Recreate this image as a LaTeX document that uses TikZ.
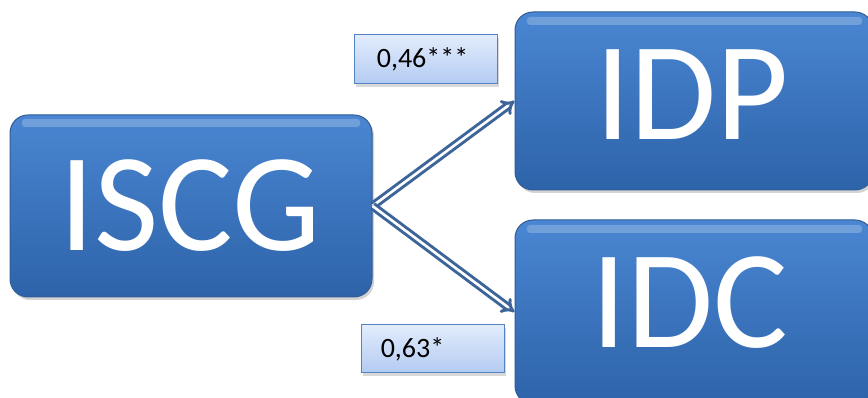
\documentclass[tikz,border=0pt]{standalone}
\usepackage{fontspec}
\setmainfont{Carlito}
\usetikzlibrary{arrows.meta,shadows}
\definecolor{boxtop}{HTML}{4A86D2}
\definecolor{boxbot}{HTML}{2D63A9}
\definecolor{boxline}{HTML}{2F5C96}
\definecolor{lbltop}{HTML}{E2ECFC}
\definecolor{lblbot}{HTML}{B3CBF2}
\definecolor{lblline}{HTML}{5583C2}
\definecolor{arrowc}{HTML}{3E6599}
\tikzset{
  bigbox/.style={rectangle, rounded corners=18pt, draw=boxline, line width=1pt,
    top color=boxtop, bottom color=boxbot, text=white,
    font=\fontsize{140}{140}\selectfont, inner sep=0pt,
    drop shadow={shadow xshift=2pt, shadow yshift=-3pt, opacity=0.35}},
  lblbox/.style={rectangle, draw=lblline, line width=1pt,
    top color=lbltop, bottom color=lblbot, text=black,
    font=\fontsize{28}{28}\selectfont, inner sep=0pt,
    drop shadow={shadow xshift=2pt, shadow yshift=-3pt, opacity=0.3}},
  gloss/.style={fill=white, fill opacity=0.22, draw=none, rounded corners=3pt},
  dblarrow/.style={draw=arrowc, line width=3pt, double=white, double distance=2.6pt,
    -{Implies[length=6pt,width=12pt]}}
}
\begin{document}
\begin{tikzpicture}[x=1pt,y=1pt]
\useasboundingbox (0,0) rectangle (868,398);
\clip (0,0) rectangle (868,398);
% boxes
\node[bigbox, minimum width=362pt, minimum height=182pt] (iscg) at (191,192) {};
\node[bigbox, minimum width=358pt, minimum height=178pt] (idp) at (694,297) {};
\node[bigbox, minimum width=358pt, minimum height=184pt] (idc) at (694,86) {};
% gloss
\fill[gloss] (22,279) rectangle (360,271);
\fill[gloss] (527,381) rectangle (862,373);
\fill[gloss] (527,173) rectangle (862,165);
% texts
\node[text=white, font=\fontsize{140}{140}\selectfont, inner sep=0pt] (tiscg) at (190,192) {ISCG};
\node[text=white, font=\fontsize{140}{140}\selectfont, inner sep=0pt] (tidp) at (692,303) {IDP};
\node[text=white, font=\fontsize{140}{140}\selectfont, inner sep=0pt] (tidc) at (690,95) {IDC};
% arrows
\draw[dblarrow] (iscg.east) -- (idp.west);
\draw[dblarrow] (iscg.east) -- (idc.west);
% labels
\node[lblbox, minimum width=143pt, minimum height=49pt] (l1) at (425.5,338.5) {\hspace*{-6pt}0,46***};
\node[lblbox, minimum width=143pt, minimum height=48pt] (l2) at (432.5,49) {\hspace*{-40pt}0,63*};
\end{tikzpicture}
\end{document}
